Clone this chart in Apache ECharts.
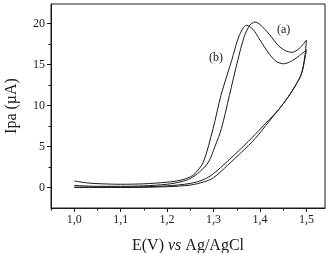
<!DOCTYPE html>
<html>
<head>
<meta charset="utf-8">
<script src="https://cdn.jsdelivr.net/npm/echarts@6/dist/echarts.min.js"></script>
<style>
  html, body { margin: 0; padding: 0; background: #fff; }
  #cv-chart { width: 329px; height: 253px; }
</style>
</head>
<body>
<div id="cv-chart"></div>
<script>
// potential (V) / current (uA) pairs
var curveAUpper = [[1.00,0.25],[1.05,0.15],[1.10,0.15],[1.15,0.2],[1.20,0.4],[1.23,0.7],[1.25,1.1],[1.27,1.9],[1.289,3.1],[1.303,5.0],[1.317,7.2],[1.334,11.2],[1.352,15.5],[1.366,18.4],[1.378,19.8],[1.389,20.2],[1.40,19.9],[1.42,18.7],[1.44,17.3],[1.455,16.7],[1.469,16.5],[1.485,17.0],[1.50,18.0]];
var curveALower = [[1.50,18.0],[1.497,16.2],[1.49,14.0],[1.48,12.8],[1.46,11.0],[1.44,9.5],[1.42,8.1],[1.39,6.0],[1.36,4.3],[1.33,2.7],[1.30,1.2],[1.28,0.7],[1.25,0.3],[1.20,0.1],[1.10,0.0],[1.00,0.0]];
var curveBUpper = [[1.00,0.8],[1.03,0.55],[1.06,0.45],[1.10,0.4],[1.15,0.45],[1.20,0.65],[1.23,0.9],[1.25,1.3],[1.26,1.7],[1.278,3.1],[1.299,7.2],[1.316,11.25],[1.339,15.5],[1.355,18.5],[1.371,19.8],[1.385,19.3],[1.40,18.0],[1.42,16.3],[1.435,15.4],[1.451,15.1],[1.47,15.5],[1.485,16.1],[1.50,16.8]];
var curveBLower = [[1.50,16.8],[1.497,15.8],[1.49,14.0],[1.48,12.8],[1.46,11.0],[1.44,9.5],[1.42,8.3],[1.39,6.5],[1.36,4.8],[1.33,3.2],[1.30,1.7],[1.28,1.0],[1.25,0.5],[1.20,0.2],[1.10,0.05],[1.00,0.05]];

var xMajorTicks = [1.0, 1.1, 1.2, 1.3, 1.4, 1.5];
var xMinorTicks = [0.95, 1.05, 1.15, 1.25, 1.35, 1.45];
var yMajorTicks = [0, 5, 10, 15, 20];
var yMinorTicks = [2.5, 7.5, 12.5, 17.5];

var chart = echarts.init(document.getElementById('cv-chart'));

var serif = 'Liberation Serif';
var ink = '#1a1a1a';
var lineStyle = { color: ink, width: 1 };

function curve(data) {
  return {
    type: 'line',
    data: data,
    smooth: 0.3,
    showSymbol: false,
    xAxisIndex: 0,
    yAxisIndex: 0,
    lineStyle: lineStyle,
    silent: true
  };
}

var option = {
  animation: false,
  grid: {
    left: 51,
    right: 4,
    top: 4,
    bottom: 45,
    outerBoundsMode: 'none',
    show: true,
    borderColor: ink,
    borderWidth: 1
  },
  xAxis: [{
    type: 'value',
    min: 0.95,
    max: 1.54,
    name: '{n|E(V) }{i|vs}{n| Ag/AgCl}',
    nameLocation: 'middle',
    nameGap: 30,
    nameTextStyle: {
      rich: {
        n: { fontFamily: serif, fontSize: 16, color: ink },
        i: { fontFamily: serif, fontSize: 16, fontStyle: 'italic', color: ink }
      }
    },
    splitLine: { show: false },
    axisLine: { onZero: false, lineStyle: { color: ink } },
    axisTick: { customValues: xMajorTicks, length: 4, lineStyle: { color: ink } },
    axisLabel: {
      customValues: xMajorTicks,
      formatter: function (v) { return v.toFixed(1).replace('.', ','); },
      fontFamily: serif, fontSize: 12, color: ink, margin: 6
    }
  }, {
    type: 'value',
    min: 0.95,
    max: 1.54,
    position: 'bottom',
    splitLine: { show: false },
    axisLine: { show: false, onZero: false },
    axisTick: { customValues: xMinorTicks, length: 2.5, lineStyle: { color: ink } },
    axisLabel: { show: false }
  }],
  yAxis: [{
    type: 'value',
    min: -2.5,
    max: 22.4,
    name: 'Ipa (\u00b5A)',
    nameLocation: 'middle',
    nameGap: 31,
    nameTextStyle: { fontFamily: serif, fontSize: 16, color: ink },
    splitLine: { show: false },
    axisLine: { onZero: false, lineStyle: { color: ink } },
    axisTick: { customValues: yMajorTicks, length: 4, lineStyle: { color: ink } },
    axisLabel: {
      customValues: yMajorTicks,
      fontFamily: serif, fontSize: 12, color: ink, margin: 6
    }
  }, {
    type: 'value',
    min: -2.5,
    max: 22.4,
    position: 'left',
    splitLine: { show: false },
    axisLine: { show: false, onZero: false },
    axisTick: { customValues: yMinorTicks, length: 2.5, lineStyle: { color: ink } },
    axisLabel: { show: false }
  }],
  graphic: [
    { type: 'text', left: 277, top: 24, style: { text: '(a)', font: '12px ' + serif, fill: ink } },
    { type: 'text', left: 209, top: 52, style: { text: '(b)', font: '12px ' + serif, fill: ink } }
  ],
  series: [
    curve(curveAUpper),
    curve(curveALower),
    curve(curveBUpper),
    curve(curveBLower)
  ]
};

chart.setOption(option);
</script>
</body>
</html>
